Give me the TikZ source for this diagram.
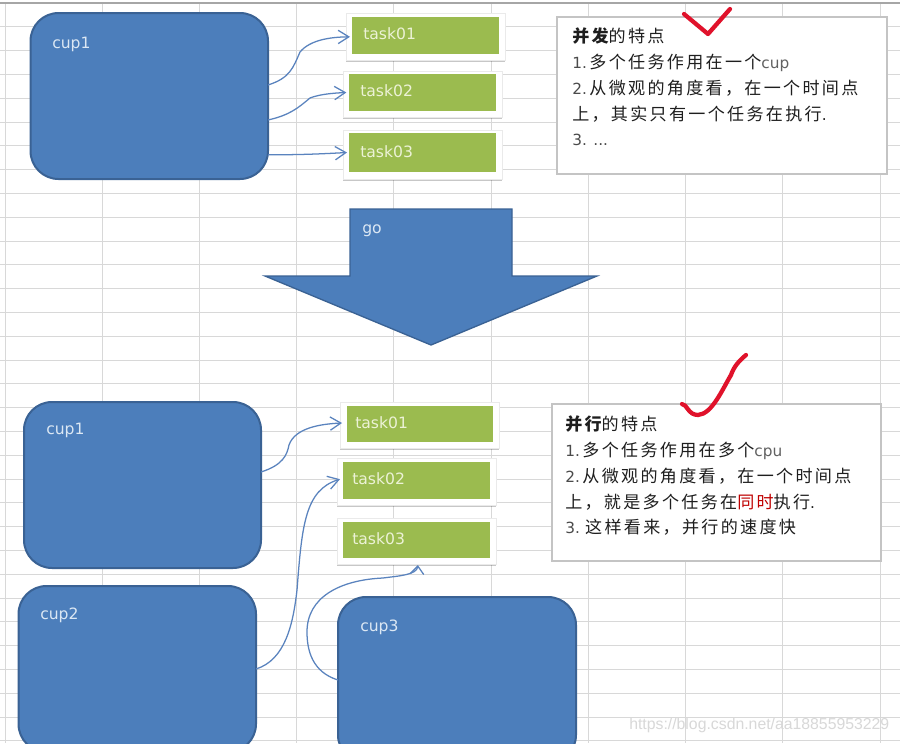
\documentclass[tikz,border=0pt]{standalone}
\usepackage{fontspec}
\setmainfont{DejaVu Sans}
\newfontfamily\zh[LetterSpace=13.5]{Noto Sans CJK SC}
\newfontfamily\wm{Liberation Sans}
\usetikzlibrary{arrows.meta,shadows}
\definecolor{gridc}{HTML}{D8D8D8}
\definecolor{blue1}{HTML}{4C7EBB}
\definecolor{blue2}{HTML}{3A6294}
\definecolor{green1}{HTML}{9BBB4F}
\definecolor{linkc}{HTML}{5A83BE}
\definecolor{redc}{HTML}{E0122B}
\definecolor{notec}{HTML}{C4C4C4}
\definecolor{ink}{HTML}{1E1E1E}
\definecolor{cuptext}{HTML}{DCE8F4}
\definecolor{tasktext}{HTML}{ECF2D6}
\definecolor{cardedge}{HTML}{EAEAEA}
\tikzset{
  cupbox/.style={rectangle,rounded corners=21pt,fill=blue1,draw=blue2,line width=1.5pt,inner sep=0pt,outer sep=0pt},
  cardbox/.style={rectangle,fill=white,draw=cardedge,line width=0.6pt,inner sep=0pt,outer sep=0pt,drop shadow={shadow xshift=0pt,shadow yshift=-1.2pt,fill=black,opacity=.22}},
  greenbox/.style={rectangle,fill=green1,inner sep=0pt,outer sep=0pt},
  notebox/.style={rectangle,fill=white,draw=notec,line width=0.8pt,inner sep=0pt,outer sep=0pt},
  cuplabel/.style={anchor=west,inner sep=0pt,text=cuptext,font=\fontsize{11.7}{14}\selectfont},
  tasklabel/.style={anchor=west,inner sep=0pt,text=tasktext,font=\fontsize{11.7}{14}\selectfont},
  notetext/.style={anchor=north west,inner sep=0pt,align=left,text=ink,font=\fontsize{11.5}{19.4}\selectfont},
  linkline/.style={draw=linkc,line width=0.95pt,-{Straight Barb[length=8pt,width=10pt,line width=0.95pt]}},
  tick/.style={draw=redc,line width=3.2pt,line cap=round,line join=round},
  gridline/.style={draw=gridc,line width=0.7pt}
}
\newcommand{\bx}[6]{%
  \pgfmathsetmacro\bw{(#5-#3)*0.75}\pgfmathsetmacro\bh{(#6-#4)*0.75}%
  \node[#1,minimum width=\bw pt,minimum height=\bh pt,anchor=north west] (#2) at (#3,#4) {};}
\newcommand{\cj}[1]{{\zh\fontsize{12.8}{19.4}\selectfont #1}}
\begin{document}
\begin{tikzpicture}[x=0.75pt,y=-0.75pt]
\useasboundingbox (0,0) rectangle (900,743);
\clip (0,0) rectangle (900,743);
\fill[white] (0,0) rectangle (900,743);
% sheet grid
\foreach \k in {1,...,31} \draw[gridline] (0,3+23.8*\k) -- (900,3+23.8*\k);
\foreach \gx in {5,102,199,296,393,491,588,685,782,880} \draw[gridline] (\gx,3) -- (\gx,743);
\draw[draw=gray!70,line width=1.2pt] (0,3) -- (900,3);
% upper part
\bx{cupbox}{ua}{30.5}{13}{268}{179}
\node[cuplabel] (ual) at (52,44.5) {cup1};
\bx{cardbox}{uca}{346}{13}{505}{60}
\bx{cardbox}{ucb}{343}{71}{502}{117}
\bx{cardbox}{ucc}{343}{130}{502}{179}
\bx{greenbox}{uta}{352}{17}{499}{54}
\bx{greenbox}{utb}{349}{74}{496}{111}
\bx{greenbox}{utc}{349}{133}{496}{172}
\node[tasklabel] (utal) at (363,34) {task01};
\node[tasklabel] (utbl) at (360,91) {task02};
\node[tasklabel] (utcl) at (360,152) {task03};
\draw[linkline] ([yshift=8.25pt]ua.east) .. controls (290,78) and (293,68) .. (300,52) .. controls (310,40) and (330,37) .. ([xshift=-1.5pt,yshift=-1pt]uta.west);
\draw[linkline] ([yshift=-18pt]ua.east) .. controls (290,115) and (298,108) .. (310,98) .. controls (320,94) and (335,93) .. ([xshift=-2pt]utb.west);
\draw[linkline] ([yshift=-44pt]ua.east) .. controls (295,155) and (320,154) .. ([xshift=-1.5pt]utc.west);
\bx{notebox}{una}{557}{17}{887}{174}
\node[notetext] (unat) at (572,27.5) {\cj{\bfseries 并发\mdseries 的特点}\\\textcolor{ink!80}{1.}\,\cj{多个任务作用在一个}\textcolor{ink!70}{cup}\\\textcolor{ink!80}{2.}\,\cj{从微观的角度看，在一个时间点}\\\cj{上，其实只有一个任务在执行}.\\\textcolor{ink!80}{3. ...}};
\draw[tick] (684,14) -- (708,34) -- (730,9);
% transition arrow
\draw[fill=blue1,draw=blue2,line width=1pt,line join=miter] (350,209) -- (512,209) -- (512,276) -- (597,276) -- (431,345) -- (265,276) -- (350,276) -- cycle;
\node[cuplabel] (gol) at (362,231) {go};
% lower part
\bx{cupbox}{la}{24}{402}{261}{568}
\bx{cupbox}{lb}{18.5}{586}{256}{752}
\bx{cupbox}{lc}{338}{597}{576}{763}
\node[cuplabel] (lal) at (46,430.5) {cup1};
\node[cuplabel] (lbl) at (40,615.5) {cup2};
\node[cuplabel] (lcl) at (360,627.5) {cup3};
\bx{cardbox}{lca}{340}{402}{499}{448}
\bx{cardbox}{lcb}{337}{458}{496}{505}
\bx{cardbox}{lcc}{337}{518}{496}{564}
\bx{greenbox}{lta}{347}{406}{493}{442}
\bx{greenbox}{ltb}{343}{462}{490}{499}
\bx{greenbox}{ltc}{343}{522}{490}{558}
\node[tasklabel] (ltal) at (355,423) {task01};
\node[tasklabel] (ltbl) at (352,479) {task02};
\node[tasklabel] (ltcl) at (352,539) {task03};
\draw[linkline] ([yshift=9.75pt]la.east) .. controls (283,465) and (287,455) .. (289,445) .. controls (295,428) and (320,424) .. ([xshift=-3.75pt,yshift=0.75pt]lta.west);
\draw[linkline] (lb.east) .. controls (285,660) and (293,625) .. (297,590) .. controls (302,525) and (305,490) .. ([xshift=-2.25pt,yshift=1pt]ltb.west);
\draw[linkline,-{Straight Barb[length=6pt,width=10pt,line width=0.95pt]}] (lc.west) .. controls (312,672) and (307,650) .. (307,632) .. controls (307,597) and (340,580) .. (383,578) .. controls (398,576) and (417,575) .. ([xshift=1pt,yshift=-5.25pt]ltc.south);
\bx{notebox}{lna}{552}{404}{881}{561}
\node[notetext] (lnat) at (565,415.5) {\cj{\bfseries 并行\mdseries 的特点}\\\textcolor{ink!80}{1.}\,\cj{多个任务作用在多个}\textcolor{ink!70}{cpu}\\\textcolor{ink!80}{2.}\,\cj{从微观的角度看，在一个时间点}\\\cj{上，就是多个任务在\textcolor{red!75!black}{同时}执行}.\\\textcolor{ink!80}{3.}\hspace{4pt}\cj{这样看来，并行的速度快}};
\draw[tick] (682,404) .. controls (687,404) and (688,415) .. (698,415) .. controls (712,414) and (722,390) .. (731,375) .. controls (734,366) and (740,360) .. (746,355);
% watermark
\node[anchor=west,inner sep=0pt,text=gridc,font=\wm\fontsize{11.85}{13}\selectfont] (wm) at (629,725) {https://blog.csdn.net/aa18855953229};
\end{tikzpicture}
\end{document}
